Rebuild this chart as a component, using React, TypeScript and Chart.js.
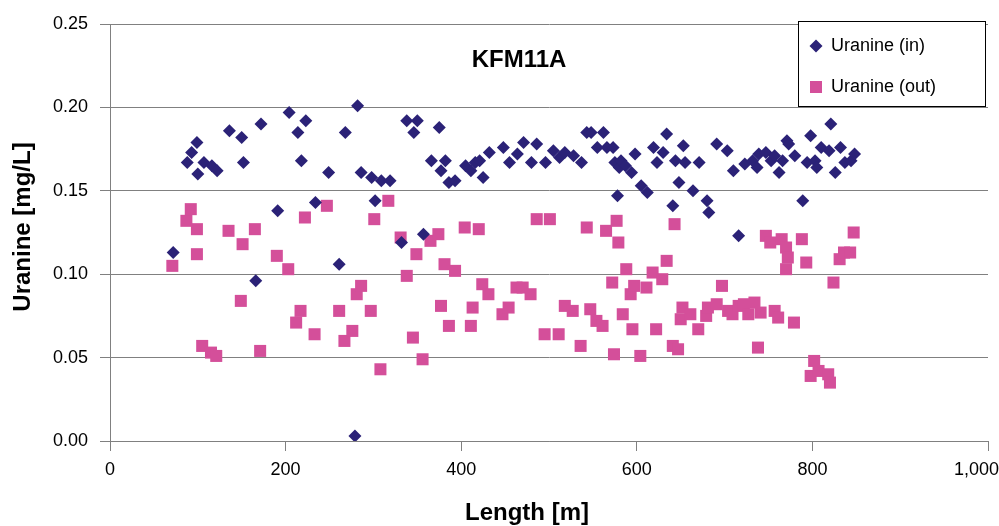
import React, { useEffect, useRef } from "react";
import { Chart, registerables } from "chart.js";

Chart.register(...registerables);

const inLength = [72, 88, 93, 99, 100, 107, 116, 122, 136, 150, 152, 166, 172, 191, 204, 214, 218, 223, 234, 249, 261, 268, 279, 282, 286, 298, 302, 309, 319, 332, 338, 346, 350, 357, 366, 375, 377, 382, 386, 393, 405, 411, 416, 421, 425, 432, 448, 455, 464, 471, 480, 486, 496, 505, 512, 518, 528, 537, 543, 548, 555, 562, 566, 573, 575, 578, 580, 582, 587, 594, 598, 605, 612, 619, 623, 630, 634, 641, 644, 648, 653, 655, 664, 671, 680, 682, 691, 703, 710, 716, 723, 732, 737, 739, 747, 753, 757, 762, 766, 771, 773, 780, 789, 794, 798, 803, 805, 810, 819, 821, 826, 832, 837, 844, 848];
const inValue = [0.113, 0.167, 0.173, 0.179, 0.160, 0.167, 0.165, 0.162, 0.186, 0.182, 0.167, 0.096, 0.190, 0.138, 0.197, 0.185, 0.168, 0.192, 0.143, 0.161, 0.106, 0.185, 0.003, 0.201, 0.161, 0.158, 0.144, 0.156, 0.156, 0.119, 0.192, 0.185, 0.192, 0.124, 0.168, 0.188, 0.162, 0.168, 0.155, 0.156, 0.165, 0.162, 0.167, 0.168, 0.158, 0.173, 0.176, 0.167, 0.172, 0.179, 0.167, 0.178, 0.167, 0.174, 0.170, 0.173, 0.171, 0.167, 0.185, 0.185, 0.176, 0.185, 0.176, 0.176, 0.167, 0.147, 0.164, 0.168, 0.165, 0.161, 0.172, 0.153, 0.149, 0.176, 0.167, 0.173, 0.184, 0.141, 0.168, 0.155, 0.177, 0.167, 0.150, 0.167, 0.144, 0.137, 0.178, 0.174, 0.162, 0.123, 0.166, 0.168, 0.164, 0.172, 0.173, 0.168, 0.171, 0.161, 0.168, 0.180, 0.178, 0.171, 0.144, 0.167, 0.183, 0.168, 0.164, 0.176, 0.174, 0.190, 0.161, 0.176, 0.167, 0.168, 0.172];

const outLength = [71, 87, 92, 99, 99, 105, 115, 121, 135, 149, 151, 165, 171, 190, 203, 212, 217, 222, 233, 247, 261, 267, 276, 281, 286, 297, 301, 308, 317, 331, 338, 345, 349, 356, 365, 374, 377, 381, 386, 393, 404, 411, 413, 420, 424, 431, 447, 454, 463, 470, 479, 486, 495, 501, 511, 518, 527, 536, 543, 547, 554, 561, 565, 572, 574, 577, 579, 584, 588, 593, 595, 597, 604, 611, 618, 622, 629, 634, 641, 643, 647, 650, 652, 661, 670, 679, 681, 691, 697, 704, 709, 716, 722, 727, 734, 738, 741, 747, 752, 757, 761, 765, 770, 770, 772, 779, 788, 793, 798, 802, 807, 818, 820, 824, 831, 836, 843, 847];
const outValue = [0.105, 0.132, 0.139, 0.127, 0.112, 0.057, 0.053, 0.051, 0.126, 0.084, 0.118, 0.127, 0.054, 0.111, 0.103, 0.071, 0.078, 0.134, 0.064, 0.141, 0.078, 0.060, 0.066, 0.088, 0.093, 0.078, 0.133, 0.043, 0.144, 0.122, 0.099, 0.062, 0.112, 0.049, 0.120, 0.124, 0.081, 0.106, 0.069, 0.102, 0.128, 0.069, 0.080, 0.127, 0.094, 0.088, 0.076, 0.080, 0.092, 0.092, 0.088, 0.133, 0.064, 0.133, 0.064, 0.081, 0.078, 0.057, 0.128, 0.079, 0.072, 0.069, 0.126, 0.095, 0.052, 0.132, 0.119, 0.076, 0.103, 0.088, 0.067, 0.093, 0.051, 0.092, 0.101, 0.067, 0.097, 0.108, 0.057, 0.130, 0.055, 0.073, 0.080, 0.076, 0.067, 0.075, 0.080, 0.082, 0.093, 0.078, 0.076, 0.081, 0.082, 0.076, 0.083, 0.056, 0.077, 0.123, 0.119, 0.078, 0.074, 0.121, 0.116, 0.103, 0.110, 0.071, 0.121, 0.107, 0.039, 0.048, 0.042, 0.040, 0.035, 0.095, 0.109, 0.113, 0.113, 0.125];

const seriesNames = ["Uranine (in)", "Uranine (out)"];
const chartTitle = "KFM11A";
const xTitle = "Length [m]";
const yTitle = "Uranine [mg/L]";
const X_MAX = 1000;

const IN_COLOR = "#2b2277";
const OUT_COLOR = "#d44f9a";
const FONT = "'Liberation Sans', Arial, sans-serif";
const TICK_SIZE = 18;
const fmtX = (v: number) => Number(v).toLocaleString("en-US");

const overlayPlugin = {
  id: "overlay",
  afterDatasetsDraw(chart: any) {
    const ctx = chart.ctx;
    ctx.save();
    ctx.fillStyle = "#000";
    ctx.font = `bold 24px ${FONT}`;
    ctx.textAlign = "center";
    ctx.textBaseline = "middle";
    ctx.fillText(chartTitle, 519, 60);
    ctx.fillText(xTitle, 527, 513);
    ctx.save();
    ctx.translate(23, 227);
    ctx.rotate(-Math.PI / 2);
    ctx.fillText(yTitle, 0, 0);
    ctx.restore();
    // last x tick label, kept inside the canvas like the reference
    const xs = chart.scales.x;
    ctx.font = `${TICK_SIZE}px ${FONT}`;
    ctx.textAlign = "right";
    ctx.textBaseline = "middle";
    ctx.fillText(
      fmtX(X_MAX),
      Math.min(xs.getPixelForValue(X_MAX) + 24, 999),
      xs.top + 18 + (TICK_SIZE * 1.2) / 2
    );
    // legend
    const lx = 798, ly = 21, lw = 187, lh = 85;
    ctx.fillStyle = "#fff";
    ctx.fillRect(lx, ly, lw, lh);
    ctx.strokeStyle = "#000";
    ctx.lineWidth = 1;
    ctx.strokeRect(lx + 0.5, ly + 0.5, lw, lh);
    ctx.fillStyle = IN_COLOR;
    ctx.beginPath();
    const dx = 816, dy = 46, r = 6.5;
    ctx.moveTo(dx, dy - r);
    ctx.lineTo(dx + r, dy);
    ctx.lineTo(dx, dy + r);
    ctx.lineTo(dx - r, dy);
    ctx.closePath();
    ctx.fill();
    ctx.fillStyle = OUT_COLOR;
    ctx.fillRect(810, 81, 12, 12);
    ctx.fillStyle = "#000";
    ctx.font = `18px ${FONT}`;
    ctx.textAlign = "left";
    ctx.textBaseline = "middle";
    ctx.fillText(seriesNames[0], 831, 46);
    ctx.fillText(seriesNames[1], 831, 87);
    ctx.restore();
  },
};

export default function App() {
  const ref = useRef<HTMLCanvasElement>(null);
  useEffect(() => {
    if (!ref.current) return;
    const chart = new Chart(ref.current, {
      type: "scatter",
      data: {
        datasets: [
          {
            label: seriesNames[0],
            data: inLength.map((x, i) => ({ x, y: inValue[i] })),
            pointStyle: "rectRot",
            pointRadius: 6.5,
            backgroundColor: IN_COLOR,
            borderColor: IN_COLOR,
            borderWidth: 0,
          },
          {
            label: seriesNames[1],
            data: outLength.map((x, i) => ({ x, y: outValue[i] })),
            pointStyle: "rect",
            pointRadius: 8.5,
            backgroundColor: OUT_COLOR,
            borderColor: OUT_COLOR,
            borderWidth: 0,
          },
        ],
      },
      options: {
        responsive: false,
        animation: false,
        layout: { padding: { left: 0, right: 11, top: 24, bottom: 0 } },
        plugins: {
          legend: { display: false },
          title: { display: false },
          tooltip: { enabled: false },
        },
        scales: {
          x: {
            type: "linear",
            min: 0,
            max: X_MAX,
            afterFit: (s: any) => {
              s.height = 85;
              s.paddingLeft = 0;
              s.paddingRight = 0;
            },
            ticks: {
              stepSize: 200,
              color: "#000",
              padding: 8,
              maxRotation: 0,
              font: { family: FONT, size: TICK_SIZE },
              callback: (v: any) => (Number(v) === X_MAX ? "" : fmtX(v)),
            },
            grid: {
              drawOnChartArea: false,
              drawTicks: true,
              tickLength: 10,
              color: "#808080",
            },
            border: { display: true, color: "#808080", width: 1 },
          },
          y: {
            min: 0,
            max: 0.25,
            afterFit: (s: any) => {
              s.width = 110;
              s.paddingTop = 0;
              s.paddingBottom = 0;
            },
            ticks: {
              stepSize: 0.05,
              color: "#000",
              padding: 12,
              font: { family: FONT, size: TICK_SIZE },
              callback: (v: any) => Number(v).toFixed(2),
            },
            grid: {
              drawTicks: true,
              tickLength: 10,
              color: "#808080",
            },
            border: { display: true, color: "#808080", width: 1 },
          },
        },
      },
      plugins: [overlayPlugin],
    });
    return () => chart.destroy();
  }, []);
  return (
    <div style={{ position: "fixed", left: 0, top: 0, width: 999, height: 526, background: "#fff" }}>
      <canvas ref={ref} width={999} height={526} />
    </div>
  );
}
